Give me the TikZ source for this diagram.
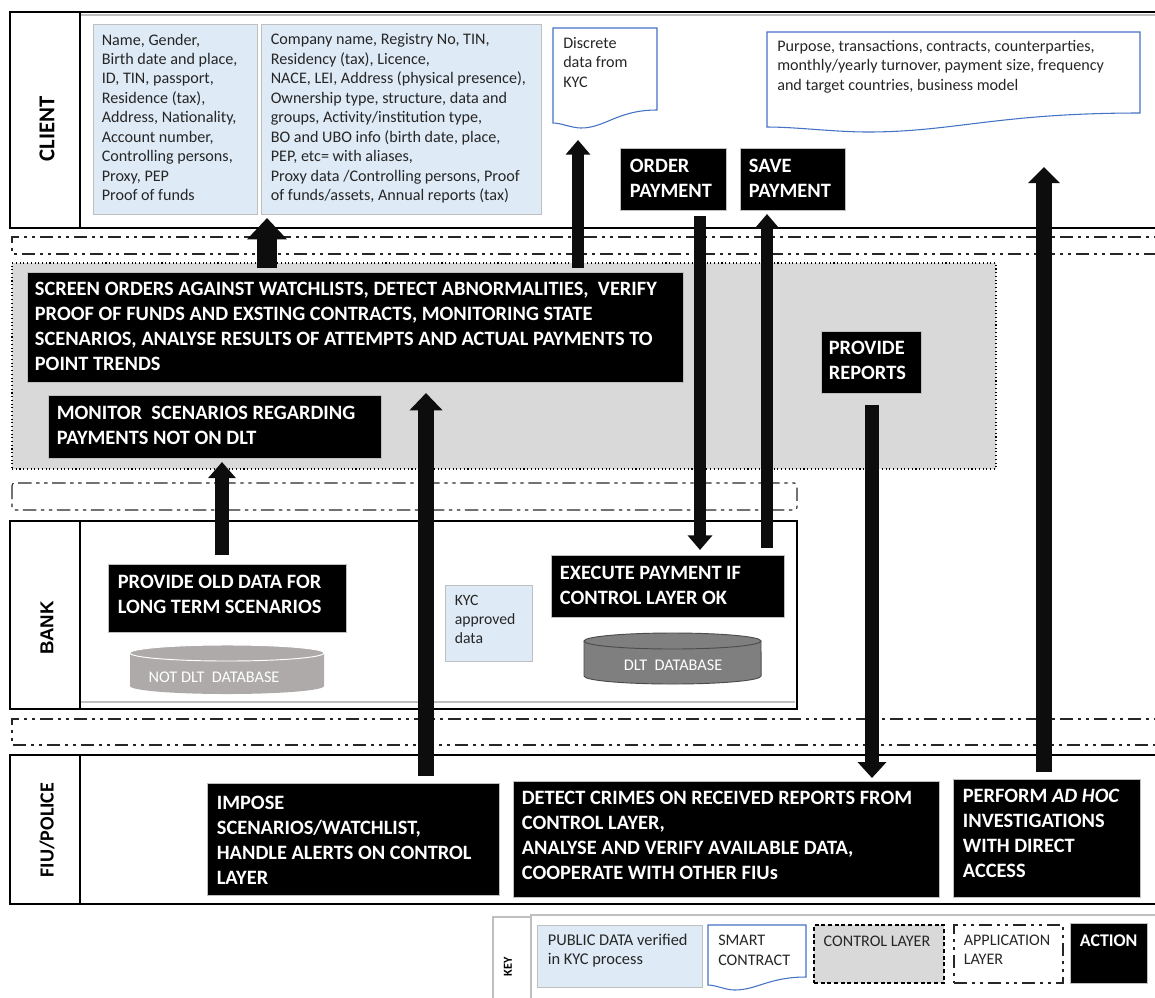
\documentclass[tikz,border=0pt]{standalone}
\usepackage{fontspec}
\setmainfont{Carlito}
\newfontfamily\arialfont{Liberation Sans}
\usetikzlibrary{arrows.meta,calc}
\definecolor{pubblue}{HTML}{DEEAF6}
\definecolor{docblue}{HTML}{4472C4}
\definecolor{ctrlgrey}{HTML}{D9D9D9}
\definecolor{edgegrey}{HTML}{BFBFBF}
\definecolor{txtgrey}{HTML}{262626}
\definecolor{arrowblack}{HTML}{0D0D0D}
\definecolor{oldgrey}{HTML}{AEAAAA}
\definecolor{dltgrey}{HTML}{7F7F7F}
\tikzset{
  lane/.style={draw=black,line width=2.2pt,fill=white,inner sep=0pt},
  lanediv/.style={draw=black,line width=1pt},
  hairline/.style={draw=edgegrey,line width=0.8pt},
  pubbox/.style={draw=edgegrey,line width=0.7pt,fill=pubblue,inner sep=0pt},
  actbox/.style={draw=edgegrey,line width=0.6pt,fill=black,inner sep=0pt},
  ctrlbox/.style={draw=black,line width=0.8pt,fill=ctrlgrey,dotted,inner sep=0pt},
  ctrlkey/.style={draw=black,line width=0.8pt,fill=ctrlgrey,densely dashed,inner sep=0pt},
  applayer/.style={draw=black!85,line width=0.8pt,dash pattern=on 10pt off 3.5pt on 2.5pt off 3.5pt on 2.5pt off 3.5pt},
  docshape/.style={draw=docblue,line width=0.8pt,fill=white},
  acttxt/.style={inner sep=0pt,align=left,text=white,font=\fontsize{15.3}{18.8}\selectfont\bfseries,anchor=north west},
  bodytxt/.style={inner sep=0pt,align=left,text=txtgrey,font=\fontsize{12.1}{14.6}\selectfont,anchor=north west},
  lanetxt/.style={inner sep=0pt,rotate=90,text=black},
  flow/.style={draw=arrowblack,color=arrowblack},
}
\newcommand{\bx}[6]{\node[#1,minimum width={(#5-#3)*0.75pt},minimum height={(#6-#4)*0.75pt}] (#2) at ({(#3+#5)/2},{(#4+#6)/2}) {};}
\newcommand{\doc}[6]{\draw[docshape] (#1,#2) -- (#3,#2) -- (#3,#4) .. controls ({#1+0.62*(#3-#1)},#4) and ({#1+0.5*(#3-#1)},#6) .. ({#1+0.27*(#3-#1)},#6) .. controls ({#1+0.18*(#3-#1)},#6) and ({#1+0.08*(#3-#1)},#5) .. (#1,#5) -- cycle;}
\newcommand{\cyl}[7]{%
  \fill[#6] (#1,#2) -- (#1,#3) arc[start angle=180,end angle=360,x radius={(#4-#1)*0.375pt},y radius=6pt] -- (#4,#2) -- cycle;
  \path[fill=#6,draw=#7,line width=0.7pt] ($(#1,#2)!0.5!(#4,#2)$) ellipse [x radius={(#4-#1)*0.375pt},y radius=#5*0.75pt];
}
\begin{document}
\begin{tikzpicture}[x=0.75pt,y=-0.75pt]
\useasboundingbox (0,0) rectangle (1155,997);
% swimlanes
\bx{lane}{client}{10}{12}{1175}{228}
\bx{lane}{bank}{10}{521}{797}{709}
\bx{lane}{fiu}{10}{755}{1175}{904}
\coordinate (cd1) at (80,12); \coordinate (cd2) at (80,228);
\coordinate (bd1) at (80,521); \coordinate (bd2) at (80,709);
\coordinate (fd1) at (80,755); \coordinate (fd2) at (80,904);
\draw[lanediv] (cd1) -- (cd2);
\draw[lanediv] (bd1) -- (bd2);
\draw[lanediv] (fd1) -- (fd2);
\coordinate (cg1) at (81,15); \coordinate (cg2) at (1175,15);
\coordinate (bg1) at (81,702); \coordinate (bg2) at (795,702);
\draw[hairline] (cg1) -- (cg2);
\draw[hairline] (bg1) -- (bg2);
\node[lanetxt,font=\fontsize{17}{20}\selectfont\bfseries] (lclient) at (47,129) {CLIENT};
\node[lanetxt,font=\arialfont\fontsize{14}{16}\selectfont\bfseries] (lbank) at (47,628) {BANK};
\node[lanetxt,font=\fontsize{15}{18}\selectfont\bfseries] (lfiu) at (47,830) {FIU/POLICE};
% application layers
\draw[applayer] (1175,237) -- (12,237) -- (12,254) -- (1175,254);
\draw[applayer,rounded corners=2pt] (12,483) rectangle (797,510);
\draw[applayer] (1175,719) -- (12,719) -- (12,745) -- (1175,745);
% control layer
\bx{ctrlbox}{control}{12}{263}{996}{469}
% client data
\bx{pubbox}{natural}{93}{24}{257}{214}
\node[bodytxt] (naturalt) at ($(natural.north west)+(9,10)$) {Name, Gender,\\Birth date and place,\\ID, TIN, passport,\\Residence (tax),\\Address, Nationality,\\Account number,\\Controlling persons,\\Proxy, PEP\\Proof of funds};
\bx{pubbox}{legal}{261}{24}{541}{214}
\node[bodytxt] (legalt) at ($(legal.north west)+(10,10)$) {Company name, Registry No, TIN,\\Residency (tax), Licence,\\NACE, LEI, Address (physical presence),\\Ownership type, structure, data and\\groups, Activity/institution type,\\BO and UBO info (birth date, place,\\PEP, etc= with aliases,\\Proxy data /Controlling persons, Proof\\of funds/assets, Annual reports (tax)};
\doc{553}{28}{657}{110}{123}{128}
\node[bodytxt] (discrete) at (563,37) {Discrete\\data from\\KYC};
\doc{767}{32}{1140}{113}{127}{132}
\node[bodytxt] (purpose) at (777,40) {Purpose, transactions, contracts, counterparties,\\monthly/yearly turnover, payment size, frequency\\and target countries, business model};
% actions
\bx{actbox}{order}{620}{148}{726}{210}
\node[acttxt] (ordert) at ($(order.north west)+(10,11)$) {ORDER\\PAYMENT};
\bx{actbox}{save}{740}{148}{845}{210}
\node[acttxt] (savet) at ($(save.north west)+(9,11)$) {SAVE\\PAYMENT};
\bx{actbox}{screen}{27}{272}{683}{382}
\node[acttxt] (screent) at ($(screen.north west)+(8,10)$) {SCREEN ORDERS AGAINST WATCHLISTS, DETECT ABNORMALITIES,~ VERIFY\\PROOF OF FUNDS AND EXSTING CONTRACTS, MONITORING STATE\\SCENARIOS, ANALYSE RESULTS OF ATTEMPTS AND ACTUAL PAYMENTS TO\\POINT TRENDS};
\bx{actbox}{monitor}{48}{395}{381}{458}
\node[acttxt] (monitort) at ($(monitor.north west)+(9,11)$) {MONITOR~ SCENARIOS REGARDING\\PAYMENTS NOT ON DLT};
\bx{actbox}{reports}{821}{331}{921}{393}
\node[acttxt] (reportst) at ($(reports.north west)+(8,10)$) {PROVIDE\\REPORTS};
\bx{actbox}{old}{108}{564}{346}{632}
\node[acttxt] (oldt) at ($(old.north west)+(10,11)$) {PROVIDE OLD DATA FOR\\LONG TERM SCENARIOS};
\bx{actbox}{execute}{551}{555}{784}{617}
\node[acttxt] (executet) at ($(execute.north west)+(9,11)$) {EXECUTE PAYMENT IF\\CONTROL LAYER OK};
\bx{pubbox}{kyc}{445}{585}{532}{661}
\node[bodytxt,font=\fontsize{11.8}{14.4}\selectfont] (kyct) at ($(kyc.north west)+(10,10)$) {KYC\\approved\\data};
\cyl{130}{653}{686}{324}{8}{oldgrey}{white}
\node[inner sep=0pt,text=white,font=\fontsize{12.2}{14}\selectfont] (oldcyl) at (214,677) {NOT DLT~ DATABASE};
\cyl{584}{641}{676}{761}{8}{dltgrey}{black!70}
\coordinate (dl1) at (584,641); \coordinate (dl2) at (584,676);
\coordinate (dr1) at (761,641); \coordinate (dr2) at (761,676);
\draw[black!70,line width=0.7pt] (dl1) -- (dl2) arc[start angle=180,end angle=360,x radius=66.4pt,y radius=6pt] -- (dr1);
\node[inner sep=0pt,text=white,font=\fontsize{12.2}{14}\selectfont] (dltcyl) at (673,665) {DLT~ DATABASE};
\bx{actbox}{impose}{207}{783}{499}{895}
\node[acttxt] (imposet) at ($(impose.north west)+(10,13)$) {IMPOSE\\SCENARIOS/WATCHLIST,\\HANDLE ALERTS ON CONTROL\\LAYER};
\bx{actbox}{detect}{513}{781}{939}{897}
\node[acttxt] (detectt) at ($(detect.north west)+(9,10)$) {DETECT CRIMES ON RECEIVED REPORTS FROM\\CONTROL LAYER,\\ANALYSE AND VERIFY AVAILABLE DATA,\\COOPERATE WITH OTHER FIUs};
\bx{actbox}{perform}{953}{779}{1140}{897}
\node[acttxt] (performt) at ($(perform.north west)+(10,10)$) {PERFORM \textit{AD HOC}\\INVESTIGATIONS\\WITH DIRECT\\ACCESS};
% arrows
\coordinate (a1s) at (267,268); \coordinate (a1e) at (267,218);
\coordinate (a2s) at (578,268); \coordinate (a2e) at (578,140);
\coordinate (a3s) at (700,216); \coordinate (a3e) at (700,550);
\coordinate (a4s) at (767,548); \coordinate (a4e) at (767,214);
\coordinate (a5s) at (1044,772); \coordinate (a5e) at (1044,167);
\coordinate (a6s) at (426,776); \coordinate (a6e) at (426,393);
\coordinate (a7s) at (222,555); \coordinate (a7e) at (222,462);
\coordinate (a8s) at (872,405); \coordinate (a8e) at (872,778);
\draw[flow,line width=15pt,-{Triangle[length=16pt,width=29pt]}] (a1s) -- (a1e);
\draw[flow,line width=9.5pt,-{Triangle[length=11pt,width=18pt]}] (a2s) -- (a2e);
\draw[flow,line width=9.5pt,-{Triangle[length=11pt,width=18pt]}] (a3s) -- (a3e);
\draw[flow,line width=9.5pt,-{Triangle[length=11pt,width=18pt]}] (a4s) -- (a4e);
\draw[flow,line width=11.5pt,-{Triangle[length=12pt,width=23pt]}] (a5s) -- (a5e);
\draw[flow,line width=12pt,-{Triangle[length=13pt,width=24pt]}] (a6s) -- (a6e);
\draw[flow,line width=10.5pt,-{Triangle[length=12pt,width=20pt]}] (a7s) -- (a7e);
\draw[flow,line width=10.5pt,-{Triangle[length=12pt,width=21pt]}] (a8s) -- (a8e);
% key
\coordinate (k1) at (493,1000); \coordinate (k2) at (493,917); \coordinate (k3) at (531,917); \coordinate (k4) at (531,1000);
\coordinate (k5) at (531,915); \coordinate (k6) at (1175,915);
\draw[hairline] (k1) -- (k2) -- (k3);
\draw[hairline] (k4) -- (k5) -- (k6);
\node[lanetxt,font=\fontsize{9.2}{11}\selectfont\bfseries] (lkey) at (508,967) {KEY};
\bx{pubbox}{kpub}{537}{925}{702}{987}
\node[bodytxt,font=\fontsize{12.3}{14.7}\selectfont] (kpubt) at ($(kpub.north west)+(11,9)$) {PUBLIC DATA verified\\in KYC process};
\doc{708}{925}{806}{977}{985}{990}
\node[bodytxt] (ksmart) at (718,935) {SMART\\CONTRACT};
\bx{ctrlkey}{kctrl}{814}{925}{944}{983}
\node[bodytxt] (kctrlt) at ($(kctrl.north west)+(10,11)$) {CONTROL LAYER};
\bx{applayer}{kapp}{954}{925}{1063}{983}
\node[bodytxt] (kappt) at ($(kapp.north west)+(10,10)$) {APPLICATION\\LAYER};
\bx{actbox}{kact}{1070}{923}{1147}{983}
\node[acttxt,font=\fontsize{13.4}{16}\selectfont\bfseries] (kactt) at ($(kact.north west)+(10,12)$) {ACTION};
\end{tikzpicture}
\end{document}
